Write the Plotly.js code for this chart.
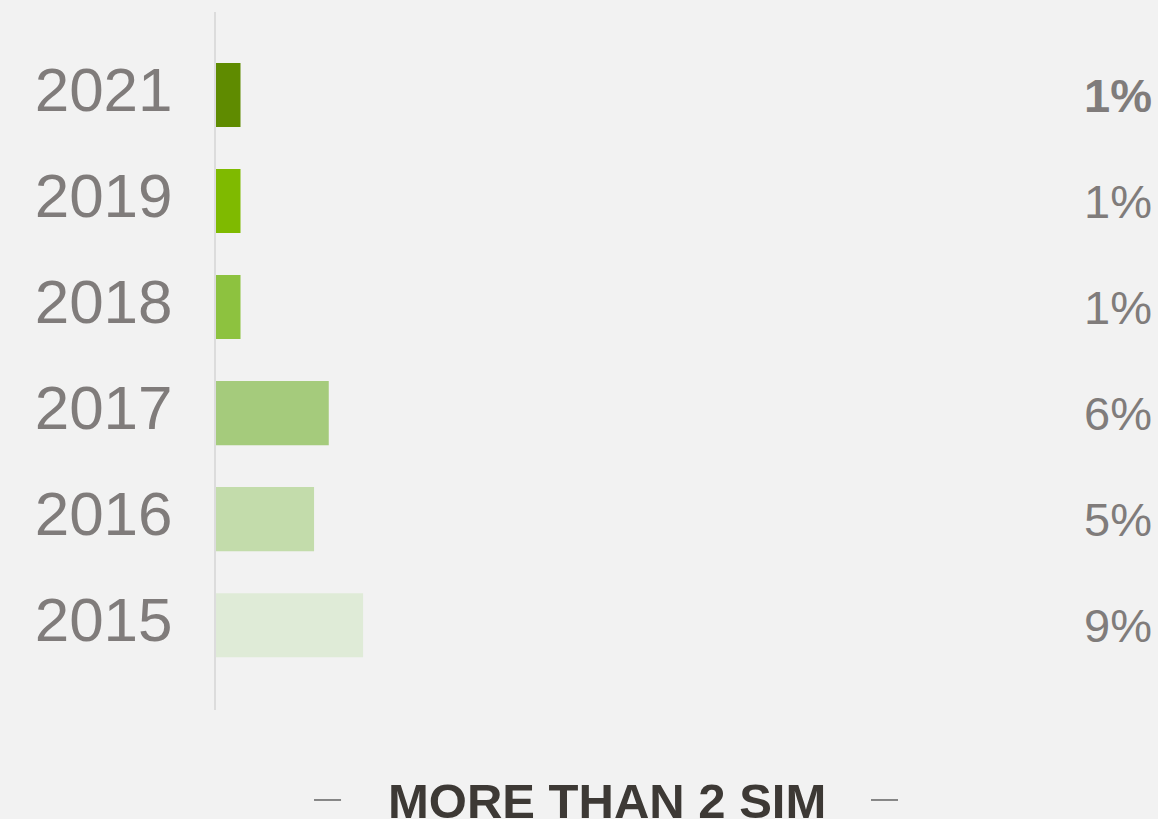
<!DOCTYPE html>
<html>
<head>
<meta charset="utf-8">
<script src="https://cdn.plot.ly/plotly-3.0.1.min.js"></script>
<style>
  html, body { margin: 0; padding: 0; background: #f2f2f2; }
  #chart { width: 1158px; height: 819px; }
</style>
</head>
<body>
<div id="chart"></div>
<script>
// Data
const years = ['2021', '2019', '2018', '2017', '2016', '2015'];
const values = [1.5, 1.5, 1.5, 6.9, 6.0, 9.0];           // bar lengths (percent) as drawn
const valueLabels = ['1%', '1%', '1%', '6%', '5%', '9%'];  // labels as printed
const barColors = ['#5f8b00', '#7fba00', '#8dc23f', '#a5cb7c', '#c3dcab', '#dfebd7'];
const chartTitle = 'MORE THAN 2 SIM';

const textGray = '#807c7b';
const font = 'Liberation Sans, Arial, sans-serif';

const trace = {
  type: 'bar',
  orientation: 'h',
  y: years,
  x: values,
  marker: { color: barColors, line: { width: 0 } },
  hoverinfo: 'skip',
  showlegend: false
};

// value labels at the right edge, positioned on the category axis by index
const annotations = years.map((yr, i) => ({
  xref: 'paper', yref: 'y',
  x: 1, y: i,
  xanchor: 'right', yanchor: 'middle',
  text: valueLabels[i],
  showarrow: false,
  font: { family: font, size: 47, color: textGray, weight: i === 0 ? 'bold' : 'normal' }
}));

annotations.push({
  xref: 'paper', yref: 'paper',
  x: 0.4168, y: -0.129, yshift: -1,
  xanchor: 'center', yanchor: 'middle',
  text: chartTitle,
  showarrow: false,
  font: { family: font, size: 49, color: '#3d3935', weight: 'bold' }
});

const layout = {
  width: 1158,
  height: 819,
  margin: { l: 216, r: 4, t: 12, b: 109, pad: 0 },
  paper_bgcolor: '#f2f2f2',
  plot_bgcolor: '#f2f2f2',
  bargap: 0.396,
  xaxis: {
    range: [0, 57.4],
    showgrid: false, zeroline: false, showticklabels: false, showline: false, ticks: ''
  },
  yaxis: {
    type: 'category',
    categoryorder: 'array',
    categoryarray: years,
    range: [5.80, -0.783],
    showgrid: false, zeroline: false,
    showline: true, linecolor: '#dcdcdc', linewidth: 2,
    ticks: '',
    ticklabelstandoff: 29,
    ticklabelshift: 6,
    tickfont: { family: font, size: 62, color: textGray }
  },
  annotations: annotations,
  shapes: [
    { type: 'line', xref: 'paper', yref: 'paper', x0: 0.1045, x1: 0.1333, y0: -0.1289, y1: -0.1289,
      line: { color: '#858585', width: 2 } },
    { type: 'line', xref: 'paper', yref: 'paper', x0: 0.6983, x1: 0.7271, y0: -0.1289, y1: -0.1289,
      line: { color: '#858585', width: 2 } }
  ]
};

Plotly.newPlot('chart', [trace], layout, { displayModeBar: false, staticPlot: true });
</script>
</body>
</html>
